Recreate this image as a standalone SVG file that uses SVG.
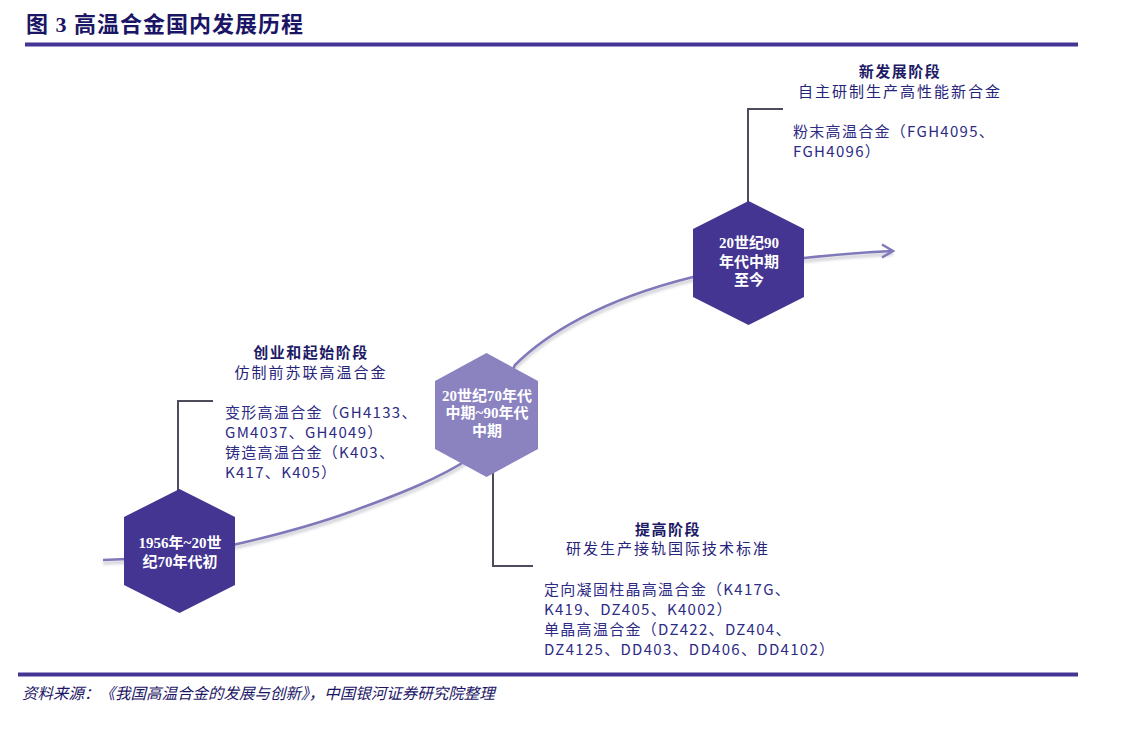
<svg xmlns="http://www.w3.org/2000/svg" width="1123" height="734" viewBox="0 0 1123 734">
<defs>
<style>
.title{font-family:"Liberation Serif","Noto Sans CJK SC",serif;font-weight:bold;font-size:22px;fill:#1b1566;letter-spacing:1px}
.rule{fill:#433593}
.src{font-family:"Liberation Serif","Noto Sans CJK SC",serif;font-style:italic;font-size:15.5px;fill:#1b1566}
.hd{font-family:"Noto Sans CJK SC",sans-serif;font-weight:bold;font-size:15px;fill:#1d1a66;text-anchor:middle;letter-spacing:1.5px}
.sub{font-family:"Noto Sans CJK SC",sans-serif;font-size:15px;fill:#26237a;text-anchor:middle;letter-spacing:2px}
.lst{font-family:"Noto Sans CJK SC",sans-serif;font-size:15px;fill:#2d2b85;letter-spacing:1.3px}
.hexd{fill:#433591}
.hexl{fill:#8b82c0}
.ht{font-family:"Liberation Serif","Noto Sans CJK SC",serif;font-weight:bold;font-size:15px;fill:#ffffff;text-anchor:middle}
.curve{fill:none;stroke:#7f79ba;stroke-width:2.5}
.shadow{fill:none;stroke:#9a9aa8;stroke-width:3;opacity:0.5}
.brk{fill:none;stroke:#4c4c5a;stroke-width:2}
</style>
<filter id="blur" x="-5%" y="-20%" width="110%" height="140%"><feGaussianBlur stdDeviation="1.5"/></filter>
</defs>
<rect width="1123" height="734" fill="#ffffff"/>
<text class="title" x="26" y="32">图 3 高温合金国内发展历程</text>
<rect class="rule" x="25" y="42.5" width="1053" height="4"/>
<rect class="rule" x="18" y="672.5" width="1060" height="4"/>
<text class="src" x="22" y="699">资料来源：《我国高温合金的发展与创新》，中国银河证券研究院整理</text>

<g id="connectors">
<path class="shadow" filter="url(#blur)" transform="translate(0,3)" d="M103,560 L150,558 C200,556 300,530 350,512 C400,494 440,478 470,458 L515,365 C545,335 600,300 693,277 L804,258 C840,254 870,252 893,251"/>
<path class="curve" d="M103,560 L150,558 C200,556 300,530 350,512 C400,494 440,478 470,458 L515,365 C545,335 600,300 693,277 L804,258 C840,254 870,252 893,251"/>
<path class="curve" d="M882,244.5 L893,251 L882,257.5"/>
<path class="brk" d="M178,498 L178,401 L213,401"/>
<path class="brk" d="M493,470 L493,566 L533,566"/>
<path class="brk" d="M748,209 L748,109 L783,109"/>
</g>

<g id="node1">
<polygon class="hexd" points="179.5,489 235,517 235,585 179.5,613 124,585 124,517"/>
<text class="ht" x="180" y="548">1956年~20世</text>
<text class="ht" x="180" y="567">纪70年代初</text>
</g>
<g id="node2">
<polygon class="hexl" points="486.5,353 538,381 538,449 486.5,477 435,449 435,381"/>
<text class="ht" x="487" y="401">20世纪70年代</text>
<text class="ht" x="487" y="418">中期~90年代</text>
<text class="ht" x="487" y="436">中期</text>
</g>
<g id="node3">
<polygon class="hexd" points="748.5,201 804,229 804,297 748.5,325 693,297 693,229"/>
<text class="ht" x="749" y="248">20世纪90</text>
<text class="ht" x="749" y="267">年代中期</text>
<text class="ht" x="749" y="285">至今</text>
</g>

<g id="label1">
<text class="hd" x="311" y="358">创业和起始阶段</text>
<text class="sub" x="311" y="378">仿制前苏联高温合金</text>
<text class="lst" x="225" y="418">变形高温合金（GH4133、</text>
<text class="lst" x="225" y="438">GM4037、GH4049）</text>
<text class="lst" x="225" y="458">铸造高温合金（K403、</text>
<text class="lst" x="225" y="478">K417、K405）</text>
</g>
<g id="label2">
<text class="hd" x="668" y="535">提高阶段</text>
<text class="sub" x="668" y="554">研发生产接轨国际技术标准</text>
<text class="lst" x="544" y="595">定向凝固柱晶高温合金（K417G、</text>
<text class="lst" x="544" y="615">K419、DZ405、K4002）</text>
<text class="lst" x="544" y="635">单晶高温合金（DZ422、DZ404、</text>
<text class="lst" x="544" y="655">DZ4125、DD403、DD406、DD4102）</text>
</g>
<g id="label3">
<text class="hd" x="900" y="77">新发展阶段</text>
<text class="sub" x="900" y="97">自主研制生产高性能新合金</text>
<text class="lst" x="793" y="137">粉末高温合金（FGH4095、</text>
<text class="lst" x="793" y="157">FGH4096）</text>
</g>
</svg>
